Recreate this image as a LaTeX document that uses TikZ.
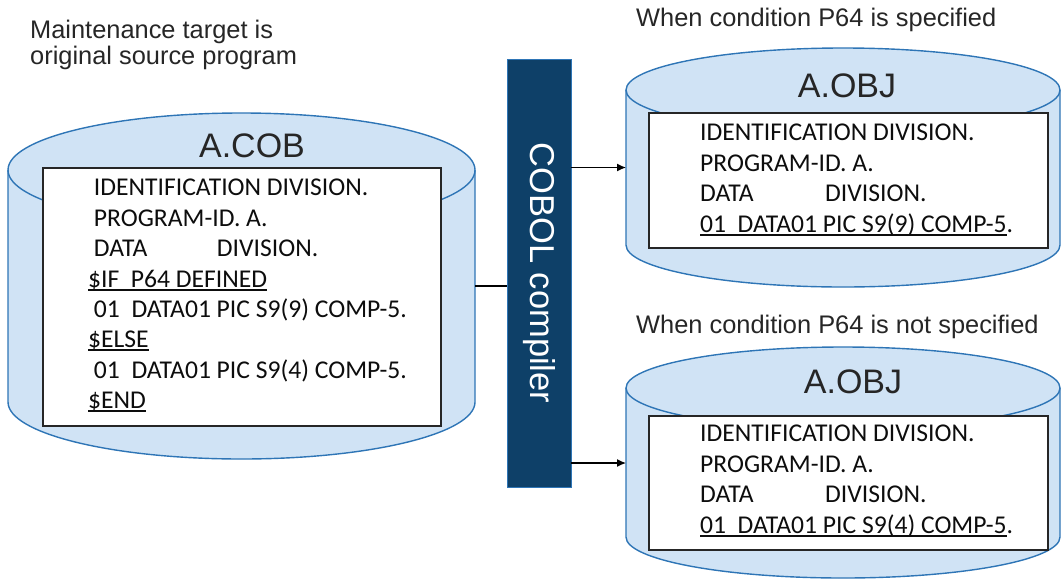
\documentclass[tikz,border=0pt]{standalone}
\usepackage{fontspec}
\setmainfont{Liberation Sans}
\newfontfamily\codefont{Carlito}
\usetikzlibrary{arrows.meta}
\definecolor{drumfill}{RGB}{208,227,245}
\definecolor{drumedge}{RGB}{46,117,182}
\definecolor{barcol}{RGB}{14,64,104}
\newcommand\ulbar[1]{\setbox0\hbox{#1}\rlap{\rule[-3.5pt]{\wd0}{1.3pt}}\box0}
% #1 cx, #2 top centre y, #3 bottom centre y, #4 rx, #5 ry
\newcommand\drumdraw[5]{%
  \fill[drumfill] (#1-#4,#2) -- (#1-#4,#3) arc[start angle=180,end angle=0,x radius=#4,y radius=#5]
     -- (#1+#4,#2) arc[start angle=0,end angle=-180,x radius=#4,y radius=#5] -- cycle;
  \draw[drumline] (#1-#4,#2) -- (#1-#4,#3) arc[start angle=180,end angle=0,x radius=#4,y radius=#5]
     -- (#1+#4,#2) arc[start angle=0,end angle=-180,x radius=#4,y radius=#5];
  \draw[drumline] (#1-#4,#2) arc[start angle=180,end angle=0,x radius=#4,y radius=#5];
}
\tikzset{
  drumline/.style={draw=drumedge,line width=1.4pt},
  holder/.style={inner sep=0pt,outer sep=0pt},
  codebox/.style={draw=black!85,fill=white,line width=1.5pt,inner sep=0pt},
  codetxt/.style={anchor=base west,inner sep=0pt,font=\codefont\fontsize{25.6}{30}\selectfont,text=black!95},
  title/.style={anchor=base,inner sep=0pt,font=\fontsize{34}{38}\selectfont,text=black!85},
  label/.style={anchor=base west,inner sep=0pt,font=\fontsize{25.4}{28}\selectfont,text=black!85},
  conn/.style={line width=1.3pt,draw=black},
  arr/.style={conn,-{Latex[length=9pt,width=8pt]}},
}
\begin{document}
\begin{tikzpicture}[x=1pt,y=-1pt]
\useasboundingbox (0,0) rectangle (1062,579);

% labels
\node[label] (lab1) at (30,38) {Maintenance target is};
\node[label] (lab2) at (30,64) {original source program};
\node[label] (lab3) at (636,26) {When condition P64 is specified};
\node[label] (lab4) at (636,333) {When condition P64 is not specified};

% cylinders
\drumdraw{241.5}{170}{402}{233.5}{57}
\node[holder,minimum width=467pt,minimum height=346pt] (cob) at (241.5,286) {};
\drumdraw{843}{90}{245}{217}{42}
\node[holder,minimum width=434pt,minimum height=239pt] (objA) at (843,167.5) {};
\drumdraw{843}{388}{537}{217}{41}
\node[holder,minimum width=434pt,minimum height=230pt] (objB) at (843,463) {};

% titles
\node[title] (t1) at (252,157) {A.COB};
\node[title] (t2) at (847,97) {A.OBJ};
\node[title] (t3) at (853,393) {A.OBJ};

% code boxes
\node[codebox,minimum width=398pt,minimum height=258pt] (box1) at (242,297) {};
\node[codebox,minimum width=399pt,minimum height=135pt] (box2) at (848.5,180.5) {};
\node[codebox,minimum width=399pt,minimum height=134pt] (box3) at (848.5,483) {};

% left code
\node[codetxt] (c1) at (88,195) {\ IDENTIFICATION DIVISION.};
\node[codetxt] (c2) at (88,226) {\ PROGRAM-ID. A.};
\node[codetxt] (c3) at (88,256) {\ \makebox[123pt][l]{DATA}DIVISION.};
\node[codetxt] (c4) at (88,287) {\ulbar{\$IF\ \ P64 DEFINED}};
\node[codetxt] (c5) at (88,317) {\ 01\ \ DATA01 PIC S9(9) COMP-5.};
\node[codetxt] (c6) at (88,347) {\ulbar{\$ELSE}};
\node[codetxt] (c7) at (88,378) {\ 01\ \ DATA01 PIC S9(4) COMP-5.};
\node[codetxt] (c8) at (88,408) {\ulbar{\$END}};

% right top code
\node[codetxt] (d1) at (700,140) {IDENTIFICATION DIVISION.};
\node[codetxt] (d2) at (700,171) {PROGRAM-ID. A.};
\node[codetxt] (d3) at (700,201) {\makebox[125pt][l]{DATA}DIVISION.};
\node[codetxt] (d4) at (700,232) {\ulbar{01\ \ DATA01 PIC S9(9) COMP-5}.};

% right bottom code
\node[codetxt] (e1) at (700,441) {IDENTIFICATION DIVISION.};
\node[codetxt] (e2) at (700,472) {PROGRAM-ID. A.};
\node[codetxt] (e3) at (700,502) {\makebox[125pt][l]{DATA}DIVISION.};
\node[codetxt] (e4) at (700,533) {\ulbar{01\ \ DATA01 PIC S9(4) COMP-5}.};

% compiler bar
\node[fill=barcol,draw=drumedge,line width=0.8pt,inner sep=0pt,minimum width=64pt,minimum height=428pt] (bar) at (539,273) {};
\node[rotate=-90,text=white,font=\fontsize{34.5}{38}\selectfont,inner sep=0pt] (barlab) at (bar.center) {COBOL compiler};

% connectors
\draw[conn] (cob.east) -- (bar.west |- cob.east);
\draw[arr] (bar.east |- objA.west) -- (objA.west);
\draw[arr] (bar.east |- objB.west) -- (objB.west);
\end{tikzpicture}
\end{document}
